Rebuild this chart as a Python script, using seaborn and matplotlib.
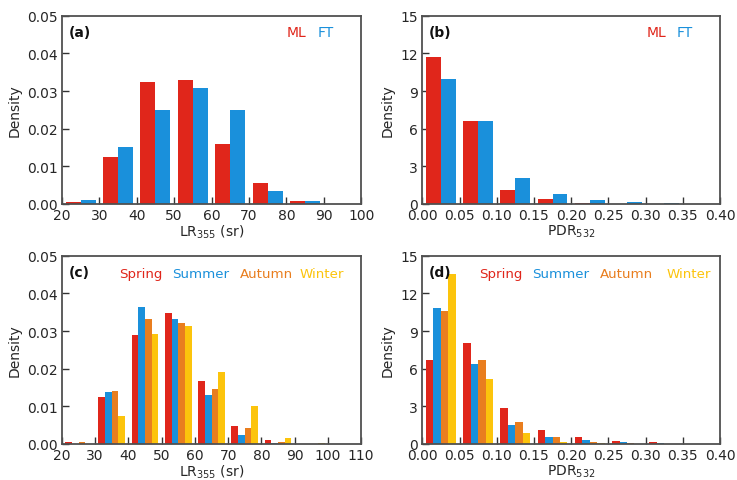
import numpy as np
import pandas as pd
import matplotlib
matplotlib.use("Agg")
import matplotlib.pyplot as plt
import seaborn as sns

# ---------------- data ----------------
lr_centers = [25, 35, 45, 55, 65, 75, 85, 95, 105]
pdr_centers = [0.025, 0.075, 0.125, 0.175, 0.225, 0.275, 0.325, 0.375]

# (a) LR355 ML / FT
lr_ml = [0.0004, 0.0124, 0.0324, 0.0329, 0.0158, 0.0056, 0.0009, 0.0, 0.0]
lr_ft = [0.0010, 0.0151, 0.0249, 0.0307, 0.0249, 0.0034, 0.0007, 0.0, 0.0]

# (b) PDR532 ML / FT
pdr_ml = [11.75, 6.63, 1.13, 0.37, 0.08, 0.02, 0.0, 0.0]
pdr_ft = [9.97, 6.60, 2.03, 0.76, 0.33, 0.16, 0.05, 0.0]

# (c) LR355 seasons
lr_spring = [0.0004, 0.0126, 0.0290, 0.0347, 0.0167, 0.0047, 0.0011, 0.0, 0.0]
lr_summer = [0.0001, 0.0139, 0.0363, 0.0333, 0.0130, 0.0024, 0.0003, 0.0, 0.0]
lr_autumn = [0.0004, 0.0141, 0.0331, 0.0321, 0.0146, 0.0043, 0.0006, 0.0, 0.0]
lr_winter = [0.0, 0.0074, 0.0293, 0.0314, 0.0192, 0.0100, 0.0015, 0.0002, 0.0]

# (d) PDR532 seasons
pdr_spring = [6.69, 8.07, 2.85, 1.15, 0.57, 0.25, 0.12, 0.03]
pdr_summer = [10.85, 6.40, 1.47, 0.57, 0.31, 0.14, 0.07, 0.0]
pdr_autumn = [10.60, 6.71, 1.72, 0.57, 0.15, 0.05, 0.02, 0.0]
pdr_winter = [13.59, 5.20, 0.85, 0.15, 0.05, 0.02, 0.0, 0.0]

groups_mf = ["ML", "FT"]
seasons = ["Spring", "Summer", "Autumn", "Winter"]

RED, BLUE, ORANGE, YELLOW = "#e0261b", "#1a90db", "#e97e1f", "#fcc40c"
pal_mf = {"ML": RED, "FT": BLUE}
pal_s = {"Spring": RED, "Summer": BLUE, "Autumn": ORANGE, "Winter": YELLOW}


def make_df(centers, series, names):
    rows = []
    for name, vals in zip(names, series):
        for c, v in zip(centers, vals):
            rows.append({"x": c, "y": v, "g": name})
    return pd.DataFrame(rows)


df_a = make_df(lr_centers, [lr_ml, lr_ft], groups_mf)
df_b = make_df(pdr_centers, [pdr_ml, pdr_ft], groups_mf)
df_c = make_df(lr_centers, [lr_spring, lr_summer, lr_autumn, lr_winter], seasons)
df_d = make_df(pdr_centers, [pdr_spring, pdr_summer, pdr_autumn, pdr_winter], seasons)

# ---------------- style ----------------
sns.set_style("white")
plt.rcParams["font.family"] = ["DejaVu Sans"]
plt.rcParams["mathtext.default"] = "regular"
plt.rcParams["font.size"] = 10

fig = plt.figure(figsize=(7.37, 4.81), dpi=100)
H = 0.391
pos = {
    "a": [0.084, 0.574, 0.406, H],
    "b": [0.573, 0.574, 0.404, H],
    "c": [0.084, 0.075, 0.406, H],
    "d": [0.573, 0.075, 0.404, H],
}
axes = {k: fig.add_axes(v) for k, v in pos.items()}

TXT = "#262626"


def draw(ax, df, order, pal):
    sns.barplot(data=df, x="x", y="y", hue="g", hue_order=order, palette=pal,
                native_scale=True, width=0.8, dodge=True, gap=0,
                errorbar=None, legend=False, linewidth=0, saturation=1, ax=ax)


draw(axes["a"], df_a, groups_mf, pal_mf)
draw(axes["b"], df_b, groups_mf, pal_mf)
draw(axes["c"], df_c, seasons, pal_s)
draw(axes["d"], df_d, seasons, pal_s)

lr_label = "LR$_{355}$ (sr)"
pdr_label = "PDR$_{532}$"

cfg = {
    "a": dict(xlim=(20, 100), xt=np.arange(20, 101, 10), ylim=(0, 0.05),
              yt=np.arange(0, 0.051, 0.01), yfmt="{:.2f}", xfmt="{:.0f}", xl=lr_label),
    "b": dict(xlim=(0, 0.4), xt=np.arange(0, 0.401, 0.05), ylim=(0, 15),
              yt=np.arange(0, 16, 3), yfmt="{:.0f}", xfmt="{:.2f}", xl=pdr_label),
    "c": dict(xlim=(20, 110), xt=np.arange(20, 111, 10), ylim=(0, 0.05),
              yt=np.arange(0, 0.051, 0.01), yfmt="{:.2f}", xfmt="{:.0f}", xl=lr_label),
    "d": dict(xlim=(0, 0.4), xt=np.arange(0, 0.401, 0.05), ylim=(0, 15),
              yt=np.arange(0, 16, 3), yfmt="{:.0f}", xfmt="{:.2f}", xl=pdr_label),
}

for k, ax in axes.items():
    c = cfg[k]
    ax.set_xlim(*c["xlim"])
    ax.set_ylim(*c["ylim"])
    ax.set_xticks(c["xt"])
    ax.set_xticklabels([c["xfmt"].format(v) for v in c["xt"]])
    ax.set_yticks(c["yt"])
    ax.set_yticklabels([c["yfmt"].format(v) for v in c["yt"]])
    ax.set_xlabel(c["xl"], fontsize=10, color=TXT, labelpad=0.5)
    ax.set_ylabel("Density", fontsize=10, color=TXT, labelpad=4)
    ax.tick_params(axis="both", direction="in", length=5, width=1,
                   color="#333333", labelsize=10, labelcolor=TXT, pad=3,
                   bottom=True, left=True, top=False, right=False)
    for s in ax.spines.values():
        s.set_visible(True)
        s.set_color("#505050")
        s.set_linewidth(1.3)
    ax.text(0.022, 0.915, f"({k})", transform=ax.transAxes, fontsize=10,
            fontweight="bold", color="#111111", va="center", ha="left")

for k in ["a", "b"]:
    ax = axes[k]
    ax.text(0.752, 0.915, "ML", transform=ax.transAxes, color=RED,
            fontsize=10, va="center", ha="left")
    ax.text(0.853, 0.915, "FT", transform=ax.transAxes, color=BLUE,
            fontsize=10, va="center", ha="left")

legx = {"c": [0.19, 0.368, 0.595, 0.795], "d": [0.191, 0.369, 0.597, 0.822]}
for k in ["c", "d"]:
    ax = axes[k]
    for xx, name in zip(legx[k], seasons):
        ax.text(xx, 0.904, name, transform=ax.transAxes, color=pal_s[name],
                fontsize=9.6, va="center", ha="left")

fig.savefig("out.png", dpi=100)
